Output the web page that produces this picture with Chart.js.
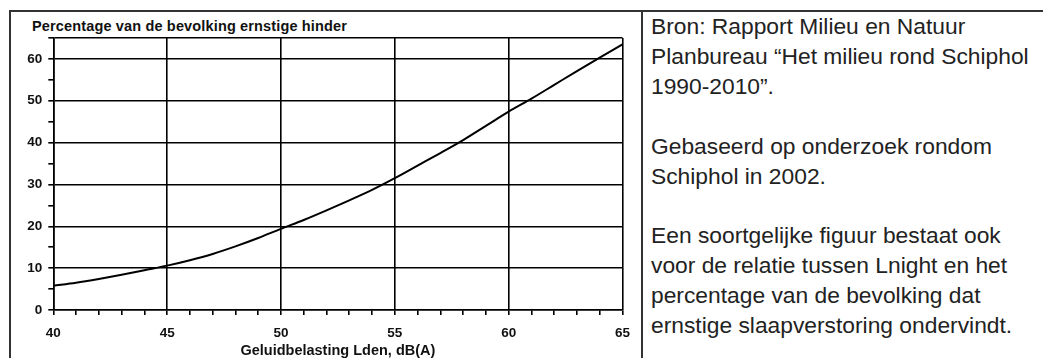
<!DOCTYPE html>
<html>
<head>
<meta charset="utf-8">
<script src="https://cdn.jsdelivr.net/npm/chart.js@4"></script>
<style>
  html, body { margin: 0; padding: 0; background: #fff; }
  body { width: 1043px; height: 358px; position: relative; overflow: hidden; font-family: "Liberation Sans", Arial, sans-serif; }
  #frame-top { position: absolute; left: 9px; top: 10px; width: 1034px; height: 2px; background: #333; }
  #frame-left { position: absolute; left: 9px; top: 10px; width: 2px; height: 348px; background: #333; }
  #frame-mid { position: absolute; left: 641px; top: 10px; width: 2px; height: 348px; background: #333; }
  #chart-box { position: absolute; left: 12px; top: 12px; width: 628px; height: 346px; }
  #ytitle { position: absolute; left: 32px; top: 18px; font: bold 14.5px "Liberation Sans", Arial, sans-serif; letter-spacing: 0.15px; color: #111; white-space: nowrap; }
  #note { position: absolute; left: 651px; top: 12px; font-size: 22.8px; line-height: 29.9px; color: #222; white-space: nowrap; }
</style>
</head>
<body>
<div id="frame-top"></div>
<div id="frame-left"></div>
<div id="frame-mid"></div>
<div id="ytitle">Percentage van de bevolking ernstige hinder</div>
<div id="chart-box"><canvas id="chart"></canvas></div>
<div id="note">
Bron: Rapport Milieu en Natuur<br>
Planbureau “Het milieu rond Schiphol<br>
1990-2010”.<br>
<br>
Gebaseerd op onderzoek rondom<br>
Schiphol in 2002.<br>
<br>
Een soortgelijke figuur bestaat ook<br>
voor de relatie tussen Lnight en het<br>
percentage van de bevolking dat<br>
ernstige slaapverstoring ondervindt.
</div>
<script>
// geluidbelasting Lden in dB(A)
const lden = [40, 41, 42, 43, 44, 45, 46, 47, 48, 49, 50, 51, 52, 53, 54, 55, 56, 57, 58, 59, 60, 61, 62, 63, 64, 65];
const hinder = [5.8, 6.5, 7.4, 8.4, 9.5, 10.6, 11.9, 13.4, 15.2, 17.2, 19.4, 21.5, 23.8, 26.2, 28.7, 31.5, 34.5, 37.5, 40.6, 44.0, 47.4, 50.5, 53.8, 57.1, 60.3, 63.5];

const xLabels = [40, 45, 50, 55, 60, 65];
const yLabels = [0, 10, 20, 30, 40, 50, 60];

const tickFont = { family: '"Liberation Sans", Arial, sans-serif', size: 13.5, weight: 'bold' };

new Chart(document.getElementById('chart'), {
    type: 'line',
    data: {
        datasets: [{
            data: lden.map((v, i) => ({ x: v, y: hinder[i] })),
            borderColor: '#000',
            borderWidth: 2,
            pointRadius: 0,
            cubicInterpolationMode: 'monotone',
            fill: false
        }]
    },
    options: {
        responsive: true,
        maintainAspectRatio: false,
        animation: false,
        layout: { padding: { top: 26, right: 15.7, left: 0, bottom: 0 } },
        plugins: { legend: { display: false }, title: { display: false }, tooltip: { enabled: false } },
        scales: {
            x: {
                type: 'linear',
                min: 40,
                max: 65,
                afterFit: function(scale) { scale.height = 48; },
                ticks: {
                    stepSize: 1,
                    autoSkip: false,
                    maxRotation: 0,
                    color: '#111',
                    font: tickFont,
                    padding: 10,
                    callback: v => xLabels.includes(v) ? String(v) : ''
                },
                grid: {
                    color: ctx => (ctx.tick && ctx.tick.value % 5 === 0) ? '#000' : 'rgba(0,0,0,0)',
                    lineWidth: 1.6,
                    tickColor: '#000',
                    tickLength: 5
                },
                border: { color: '#000', width: 1.6 },
                title: {
                    display: true,
                    text: 'Geluidbelasting Lden, dB(A)',
                    color: '#111',
                    font: { family: '"Liberation Sans", Arial, sans-serif', size: 14.5, weight: 'bold', lineHeight: 1 },
                    padding: { top: 0, bottom: 0 }
                }
            },
            y: {
                min: 0,
                max: 65,
                afterFit: function(scale) { scale.width = 41.3; },
                ticks: {
                    stepSize: 5,
                    autoSkip: false,
                    color: '#111',
                    font: tickFont,
                    padding: 6,
                    callback: v => yLabels.includes(v) ? String(v) : ''
                },
                grid: {
                    color: ctx => (ctx.tick && (ctx.tick.value % 10 === 0 || ctx.tick.value === 65)) ? '#000' : 'rgba(0,0,0,0)',
                    lineWidth: 1.6,
                    tickColor: '#000',
                    tickLength: 5
                },
                border: { color: '#000', width: 1.6 }
            }
        }
    }
});
</script>
</body>
</html>
